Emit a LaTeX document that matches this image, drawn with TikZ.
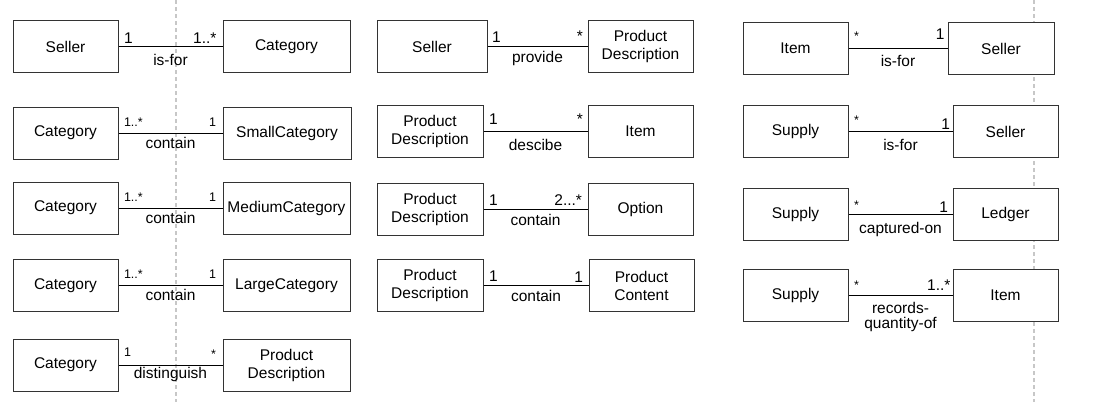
\documentclass[tikz,border=0pt]{standalone}
\usepackage{fontspec}
\setmainfont{Liberation Sans}
\usepackage{tikz}

\tikzset{
    cls/.style={draw=black!80, fill=white, line width=1pt, minimum width=#1, minimum height=52pt,
        inner sep=0pt, align=center, font=\fontsize{15.5}{18}\selectfont},
    assoc/.style={line width=1pt, draw=black},
    assocname/.style={anchor=base, yshift=-#1, inner sep=0pt, align=center, font=\fontsize{15.5}{15.5}\selectfont},
    assocname/.default=16,
    mbig/.style={inner sep=0pt, yshift=#1, font=\fontsize{15.5}{18}\selectfont},
    mbig/.default=3,
    msmall/.style={inner sep=0pt, yshift=#1, font=\fontsize{12.5}{14}\selectfont},
    msmall/.default=7,
    lm/.style={anchor=base west, xshift=#1},
    lm/.default=5,
    rm/.style={anchor=base east, xshift=-#1},
    rm/.default=4,
    guide/.style={black!22, line width=1.3pt, dash pattern=on 4pt off 3pt}
}

\begin{document}
\begin{tikzpicture}[x=1pt, y=-1pt]
    \useasboundingbox (0,0) rectangle (1101,402);

    % page break guides
    \foreach \x in {176, 1034}
        \draw[guide] (\x,0) -- (\x,402);

    % left column
    \node[cls=105] (seller1) at (65.5,46.5) {Seller};
    \node[cls=127] (cat1) at (286.5,46.5) {Category};
    \node[cls=105] (cat2) at (65.5,133) {Category};
    \node[cls=128] (small) at (287,133) {SmallCategory};
    \node[cls=105] (cat3) at (65.5,208) {Category};
    \node[cls=127] (medium) at (286.5,208) {MediumCategory};
    \node[cls=105] (cat4) at (65.5,285.5) {Category};
    \node[cls=127] (large) at (286.5,285.5) {LargeCategory};
    \node[cls=105] (cat5) at (65.5,365) {Category};
    \node[cls=127] (pd1) at (286.5,365) {Product\\Description};

    \draw[assoc] (seller1) -- node[mbig, lm, at start] (m1a) {1} node[mbig, rm=5.5, at end] (m1b) {1..*}
        node[assocname=18.5, midway] (a1) {is-for} (cat1);
    \draw[assoc] (cat2) -- node[msmall, lm, at start] (m2a) {1..*} node[msmall, rm=6, at end] (m2b) {1}
        node[assocname=15.7, midway] (a2) {contain} (small);
    \draw[assoc] (cat3) -- node[msmall, lm, at start] (m3a) {1..*} node[msmall, rm=6, at end] (m3b) {1}
        node[assocname=15.7, midway] (a3) {contain} (medium);
    \draw[assoc] (cat4) -- node[msmall, lm, at start] (m4a) {1..*} node[msmall, rm=6, at end] (m4b) {1}
        node[assocname=15.3, midway] (a4) {contain} (large);
    \draw[assoc] (cat5) -- node[msmall=9, lm, at start] (m5a) {1} node[msmall, rm=6, at end] (m5b) {*}
        node[assocname=13, midway] (a5) {distinguish} (pd1);

    % middle column
    \node[cls=110] (seller2) at (432,46.5) {Seller};
    \node[cls=105] (pd2) at (640.5,46.5) {Product\\Description};
    \node[cls=106] (pd3) at (430,131.5) {Product\\Description};
    \node[cls=105] (item1) at (640.5,131.5) {Item};
    \node[cls=106] (pd4) at (430,209.5) {Product\\Description};
    \node[cls=105] (option) at (640.5,209.5) {Option};
    \node[cls=106] (pd5) at (430,285.5) {Product\\Description};
    \node[cls=105] (content) at (641.5,285.5) {Product\\Content};

    \draw[assoc] (seller2) -- node[mbig=4, lm=4, at start] (m6a) {1} node[mbig=5, rm, at end] (m6b) {*}
        node[assocname, midway] (a6) {provide} (pd2);
    \draw[assoc] (pd3) -- node[mbig=7, lm, at start] (m7a) {1} node[mbig=6.6, rm, at end] (m7b) {*}
        node[assocname=19, midway] (a7) {descibe} (item1);
    \draw[assoc] (pd4) -- node[mbig=4, lm, at start] (m8a) {1} node[mbig=4, rm=5, at end] (m8b) {2...*}
        node[assocname, midway] (a8) {contain} (option);
    \draw[assoc] (pd5) -- node[mbig=3.7, lm, at start] (m9a) {1} node[mbig=2.7, rm=5, at end] (m9b) {1}
        node[assocname=15.7, midway] (a9) {contain} (content);

    % right column
    \node[cls=105] (item2) at (795.5,48.5) {Item};
    \node[cls=106] (seller3) at (1001,48.5) {Seller};
    \node[cls=105] (supply1) at (795.5,131.5) {Supply};
    \node[cls=105] (seller4) at (1005.5,131.5) {Seller};
    \node[cls=105] (supply2) at (795.5,214.5) {Supply};
    \node[cls=105] (ledger) at (1005.5,214.5) {Ledger};
    \node[cls=105] (supply3) at (795.5,295.5) {Supply};
    \node[cls=105] (item3) at (1005.5,295.5) {Item};

    \draw[assoc] (item2) -- node[msmall=8, lm, at start] (m10a) {*} node[mbig=8.7, rm=2.5, at end] (m10b) {1}
        node[assocname=17.7, midway] (a10) {is-for} (seller3);
    \draw[assoc] (supply1) -- node[msmall, lm, at start] (m11a) {*} node[mbig=2, rm=2, at end] (m11b) {1}
        node[assocname=19, midway] (a11) {is-for} (seller4);
    \draw[assoc] (supply2) -- node[msmall=5.5, lm, at start] (m12a) {*} node[mbig=2, rm, at end] (m12b) {1}
        node[assocname=19, midway] (a12) {captured-on} (ledger);
    \draw[assoc] (supply3) -- node[msmall=6.5, lm, at start] (m13a) {*} node[mbig=4.6, rm=1.5, at end] (m13b) {1..*}
        node[assocname=33, midway] (a13) {records-\\quantity-of} (item3);
\end{tikzpicture}
\end{document}
